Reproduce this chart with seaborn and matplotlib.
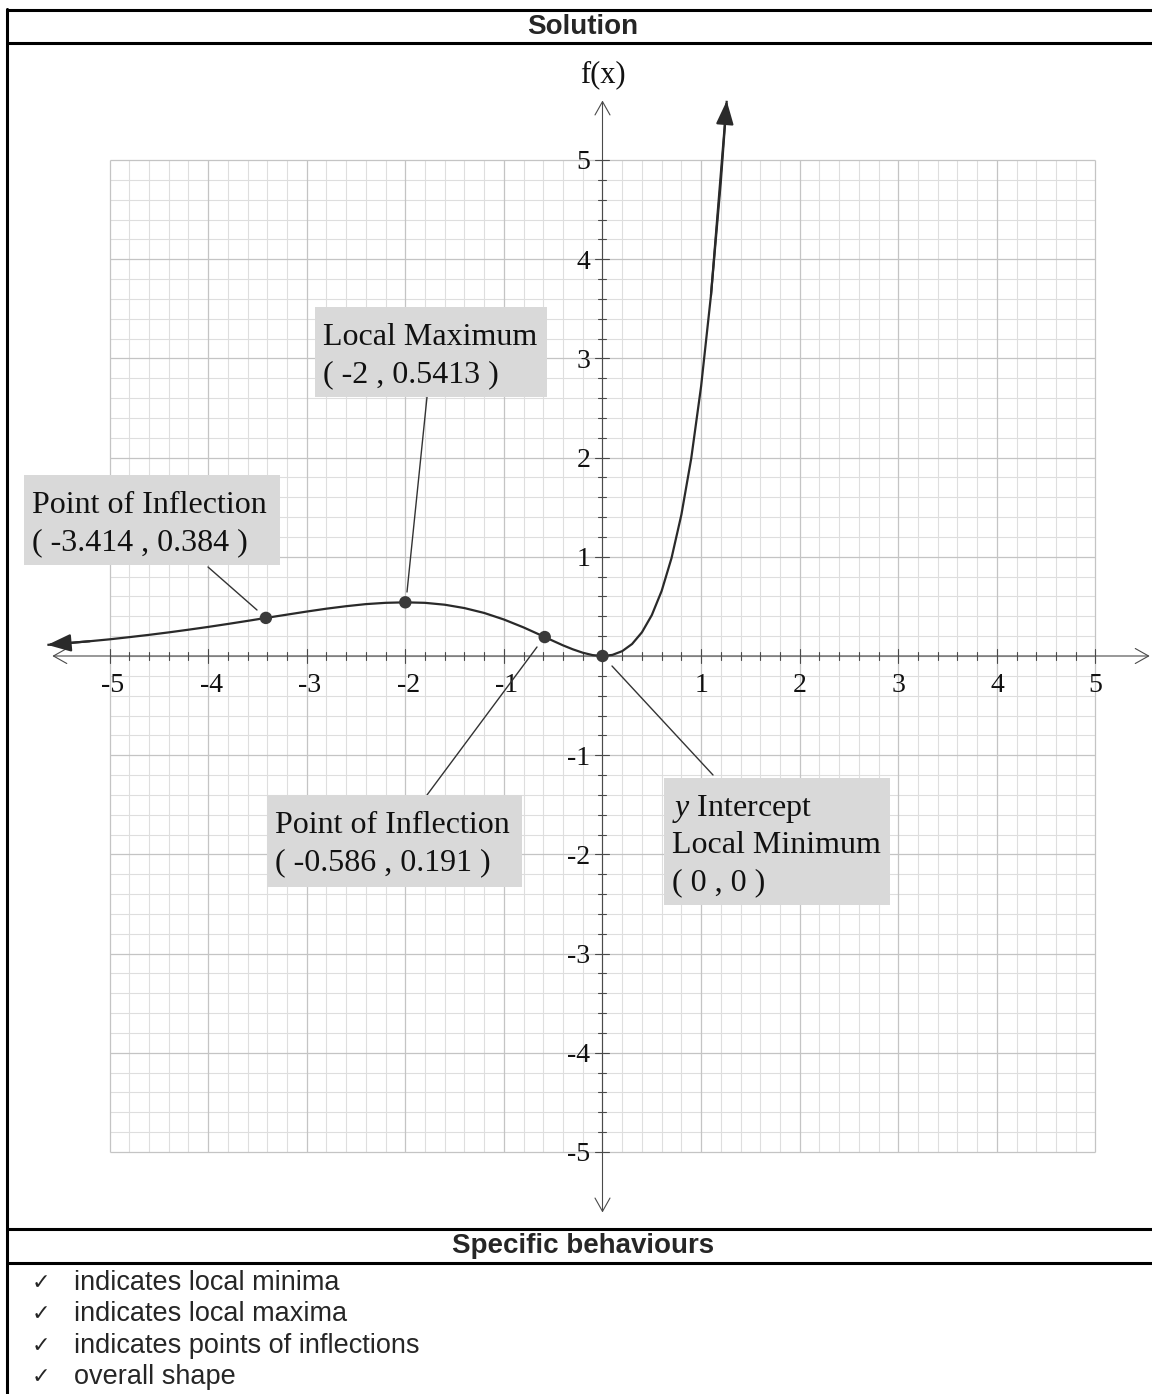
import numpy as np
import matplotlib
matplotlib.use('Agg')
import matplotlib.pyplot as plt
from matplotlib.patches import Rectangle
import seaborn as sns

sns.set_style('white')
plt.rcParams['font.family'] = ['Liberation Serif', 'DejaVu Serif']
plt.rcParams['mathtext.fontset'] = 'custom'
plt.rcParams['mathtext.it'] = 'Liberation Serif:italic'
plt.rcParams['mathtext.rm'] = 'Liberation Serif'

# curve f(x)
curve_x = [-5.63, -5.4, -5.2, -5.0, -4.8, -4.6, -4.4, -4.2, -4.0, -3.8, -3.6, -3.4,
           -3.2, -3.0, -2.8, -2.6, -2.4, -2.2, -2.0, -1.8, -1.6, -1.4, -1.2, -1.0,
           -0.8, -0.6, -0.5, -0.4, -0.3, -0.2, -0.1, 0.0, 0.1, 0.2, 0.3, 0.4, 0.5,
           0.6, 0.7, 0.8, 0.9, 1.0, 1.1, 1.2, 1.26]
curve_y = [0.112, 0.132, 0.149, 0.168, 0.190, 0.213, 0.238, 0.265, 0.293, 0.323, 0.354, 0.386,
           0.417, 0.448, 0.477, 0.502, 0.523, 0.536, 0.541, 0.536, 0.517, 0.483, 0.434, 0.368,
           0.288, 0.198, 0.152, 0.107, 0.067, 0.033, 0.009, 0.0, 0.011, 0.049, 0.121, 0.239, 0.412,
           0.656, 0.987, 1.424, 1.992, 2.718, 3.635, 4.781, 5.597]

# marked points
pt_x = [-3.414, -2, -0.586, 0]
pt_y = [0.384, 0.5413, 0.191, 0]
pt_labels = [['Point of Inflection', '( -3.414 , 0.384 )'],
             ['Local Maximum', '( -2 , 0.5413 )'],
             ['Point of Inflection', '( -0.586 , 0.191 )'],
             ['$\\it{y}$ Intercept', 'Local Minimum', '( 0 , 0 )']]

x_ticks = [-5, -4, -3, -2, -1, 1, 2, 3, 4, 5]
y_ticks = [5, 4, 3, 2, 1, -1, -2, -3, -4, -5]

behaviours = ['indicates local minima', 'indicates local maxima',
              'indicates points of inflections', 'overall shape']

W, H = 1152, 1394
fig = plt.figure(figsize=(W / 100, H / 100), dpi=100)
fig.patch.set_facecolor('white')

# pixel -> data mapping of the graph
x0px, ux = 602.5, 98.6
y0px, uy = 656, 99.2
top_px, bot_px = 43, 1229
ax = fig.add_axes([0, (H - bot_px) / H, 1, (bot_px - top_px) / H])
ax.set_xlim(-x0px / ux, (W - x0px) / ux)
ax.set_ylim((y0px - bot_px) / uy, (y0px - top_px) / uy)
ax.axis('off')

# grid
fine = np.round(np.arange(-5, 5.001, 0.2), 1)
minor = [v for v in fine if abs(v - round(v)) > 1e-6]
major = [v for v in fine if abs(v - round(v)) < 1e-6]
ax.vlines(minor, -5, 5, color='#dedede', lw=0.8, zorder=1)
ax.hlines(minor, -5, 5, color='#dedede', lw=0.8, zorder=1)
ax.vlines(major, -5, 5, color='#c4c4c4', lw=0.9, zorder=1)
ax.hlines(major, -5, 5, color='#c4c4c4', lw=0.9, zorder=1)

# axes with open arrows
axis_col = '#4a4a4a'
arr = dict(arrowstyle='<->,head_length=0.8,head_width=0.45', color=axis_col, lw=0.8,
           mutation_scale=12, shrinkA=0, shrinkB=0)
ax.annotate('', xy=(5.55, 0), xytext=(-5.58, 0), arrowprops=arr, zorder=2)
ax.annotate('', xy=(0, 5.6), xytext=(0, -5.61), arrowprops=arr, zorder=2)

# tick marks
tk = [v for v in fine if abs(v) > 1e-6]
for v in tk:
    big = abs(v - round(v)) < 1e-6
    hx = (7 if big else 4) / uy
    hy = (7 if big else 4) / ux
    ax.plot([v, v], [-hx, hx], color=axis_col, lw=0.8, zorder=2)
    ax.plot([-hy, hy], [v, v], color=axis_col, lw=0.8, zorder=2)

for v in x_ticks:
    ax.text(v + (0.03 if v < 0 else 0), -29 / uy, f'{v}', ha='center', va='center',
            fontsize=20, color='#111111')
for v in y_ticks:
    ax.text(-12 / ux, v - 0.03, f'{v}', ha='right', va='center', fontsize=20, color='#111111')
ax.text(0, (y0px - 75) / uy, 'f(x)', ha='center', va='center', fontsize=22, color='#111111')

# curve
curve_col = '#2a2a2a'
sns.lineplot(x=curve_x, y=curve_y, ax=ax, color=curve_col, lw=1.6, sort=False,
             estimator=None, solid_capstyle='butt', zorder=4)
head = dict(arrowstyle='-|>,head_length=1.2,head_width=0.45', color=curve_col, lw=1.6,
            mutation_scale=12, shrinkA=0, shrinkB=0)
ax.annotate('', xy=(curve_x[0], curve_y[0]), xytext=(curve_x[2], curve_y[2]), arrowprops=head, zorder=5)
ax.annotate('', xy=(curve_x[-1], curve_y[-1]), xytext=(curve_x[-3], curve_y[-3]), arrowprops=head, zorder=5)

sns.scatterplot(x=pt_x, y=pt_y, ax=ax, color='#3a3a3a', s=80, edgecolor='none', zorder=6)

# label boxes: (left, top, right, bottom) in px, leader start/end in px
boxes = [(24, 475, 280, 565), (315, 307, 547, 397), (267, 795, 522, 887), (664, 778, 890, 905)]
leaders = [((208, 567), (257, 610)), ((427, 397), (407, 592)),
           ((427, 795), (537, 647)), ((612, 666), (713, 775))]

def to_d(px, py):
    return (px - x0px) / ux, (y0px - py) / uy

for (l, t, r, b), lines, (p0, p1) in zip(boxes, pt_labels, leaders):
    xl, yt = to_d(l, t)
    xr, yb = to_d(r, b)
    ax.add_patch(Rectangle((xl, yb), xr - xl, yt - yb, facecolor='#d9d9d9',
                           edgecolor='none', zorder=7))
    for i, s in enumerate(lines):
        tx, ty = to_d(l + 8, t + 38 + 37 * i)
        ax.text(tx, ty, s, ha='left', va='baseline', fontsize=23, color='#111111', zorder=8)
    a, c = to_d(*p0), to_d(*p1)
    ax.plot([a[0], c[0]], [a[1], c[1]], color='#333333', lw=1.0, zorder=5)

# table frame in pixel coordinates
ov = fig.add_axes([0, 0, 1, 1])
ov.set_xlim(0, W)
ov.set_ylim(H, 0)
ov.axis('off')
ov.patch.set_alpha(0)
for yy in [10, 43, 1229, 1263]:
    ov.plot([7, W], [yy, yy], color='black', lw=2.2)
ov.plot([7, 7], [9, H], color='black', lw=2.2)

sans = ['Liberation Sans', 'DejaVu Sans']
ov.text(583, 27, 'Solution', ha='center', va='center', fontsize=20, fontweight='bold', family=sans)
ov.text(583, 1246, 'Specific behaviours', ha='center', va='center', fontsize=20,
        fontweight='bold', family=sans)
for i, s in enumerate(behaviours):
    yy = 1283 + 31.3 * i
    ov.text(41, yy, '\u2713', ha='center', va='center', fontsize=16, family=['DejaVu Sans'])
    ov.text(74, yy, s, ha='left', va='center', fontsize=19.5, family=sans)

fig.savefig('out.png', dpi=100)
